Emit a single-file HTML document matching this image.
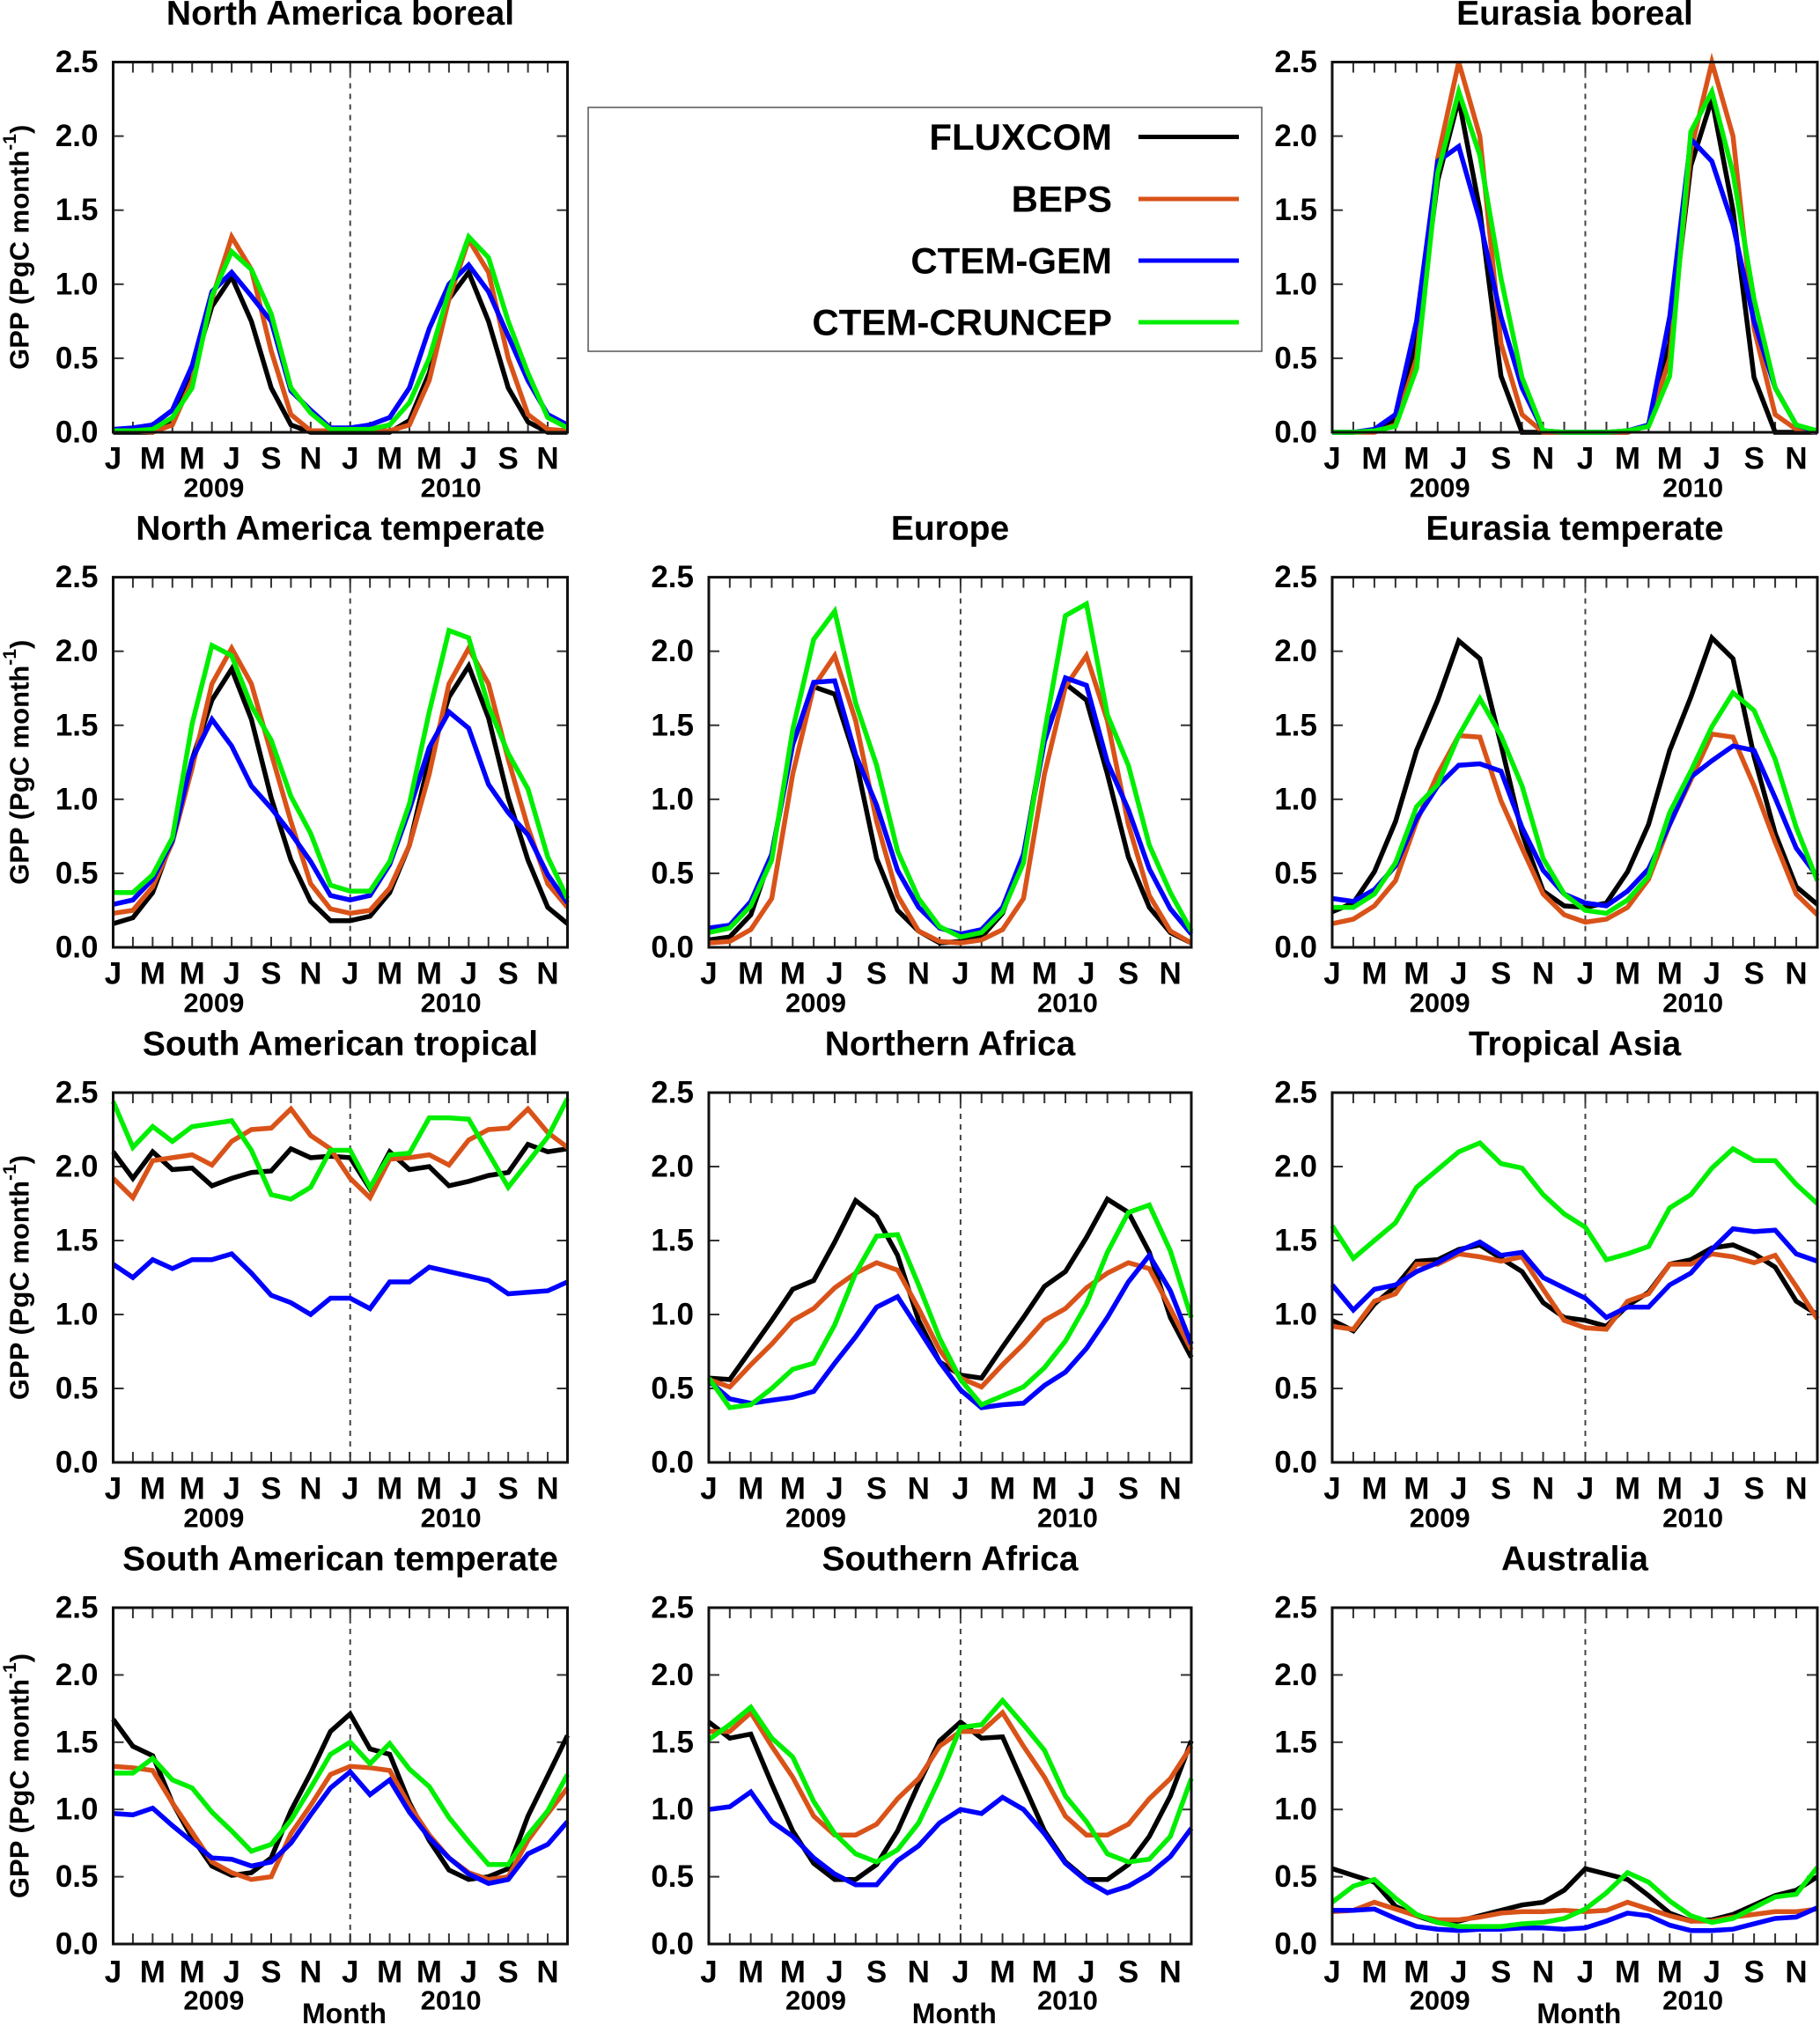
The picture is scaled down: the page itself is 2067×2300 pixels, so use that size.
<!DOCTYPE html>
<html><head><meta charset="utf-8"><style>
html,body{margin:0;padding:0;background:#fff;}
svg{display:block;font-family:"Liberation Sans",Arial,sans-serif;font-weight:bold;}
</style></head>
<body>
<svg id="fig" width="2067" height="2300" viewBox="0 0 2067 2300" xmlns="http://www.w3.org/2000/svg"></svg>
<script>
const seriesNames = ["FLUXCOM","BEPS","CTEM-GEM","CTEM-CRUNCEP"];
const seriesColors = ["#000000","#d95319","#0000ff","#00ee00"];
const monthLabels = ["J","M","M","J","S","N","J","M","M","J","S","N"];
const yearLabels = ["2009","2010"];
const yTicks = [0.0,0.5,1.0,1.5,2.0,2.5];
const regionNames = ["North America boreal","","Eurasia boreal","North America temperate","Europe","Eurasia temperate","South American tropical","Northern Africa","Tropical Asia","South American temperate","Southern Africa","Australia"];

const naBorealFlux=[0,0,0,0.08,0.4,0.85,1.05,0.75,0.3,0.05,0,0,0,0,0,0.08,0.4,0.9,1.08,0.75,0.3,0.07,0,0];
const naBorealBeps=[0.01,0.01,0,0.05,0.35,0.9,1.32,1.1,0.55,0.12,0.01,0.01,0.01,0.01,0.01,0.05,0.35,0.9,1.3,1.08,0.5,0.12,0.02,0.01];
const naBorealGem=[0.02,0.03,0.05,0.15,0.45,0.95,1.08,0.92,0.75,0.28,0.15,0.03,0.03,0.05,0.1,0.3,0.7,1.0,1.13,0.95,0.65,0.35,0.12,0.05];
const naBorealCru=[0.01,0.01,0.02,0.1,0.3,0.92,1.22,1.1,0.8,0.3,0.13,0.02,0.02,0.02,0.05,0.2,0.5,0.95,1.32,1.18,0.75,0.4,0.1,0.03];

const euBorealFlux=[0,0,0.01,0.08,0.6,1.7,2.25,1.5,0.38,0,0,0,0,0,0,0.05,0.6,1.8,2.25,1.5,0.37,0,0,0];
const euBorealBeps=[0,0,0,0.05,0.5,1.85,2.55,2.0,0.6,0.12,0,0,0,0,0,0.05,0.5,1.9,2.55,2.0,0.7,0.12,0.02,0];
const euBorealGem=[0,0,0.02,0.12,0.75,1.83,1.93,1.43,0.78,0.3,0.01,0,0,0,0.01,0.05,0.78,1.98,1.83,1.4,0.75,0.3,0.05,0];
const euBorealCru=[0,0,0.01,0.04,0.43,1.75,2.3,1.87,1.04,0.37,0.01,0,0,0,0.01,0.04,0.38,2.03,2.3,1.75,0.9,0.3,0.05,0.01];

const naTempFlux=[0.16,0.2,0.37,0.73,1.27,1.67,1.88,1.54,1.01,0.59,0.31,0.18,0.18,0.21,0.37,0.69,1.27,1.69,1.9,1.55,1.01,0.59,0.27,0.16];
const naTempBeps=[0.23,0.25,0.41,0.71,1.21,1.78,2.02,1.78,1.31,0.85,0.43,0.26,0.23,0.25,0.4,0.69,1.17,1.78,2.02,1.78,1.27,0.81,0.43,0.27];
const naTempGem=[0.29,0.32,0.46,0.72,1.27,1.54,1.36,1.09,0.94,0.77,0.58,0.35,0.32,0.35,0.56,0.93,1.35,1.59,1.48,1.1,0.91,0.76,0.49,0.3];
const naTempCru=[0.37,0.37,0.49,0.74,1.51,2.04,1.97,1.63,1.4,1.02,0.77,0.42,0.38,0.38,0.58,0.97,1.59,2.14,2.09,1.63,1.31,1.07,0.61,0.33];

const europeFlux=[0.05,0.07,0.22,0.63,1.37,1.76,1.71,1.27,0.6,0.25,0.11,0.03,0.04,0.07,0.23,0.62,1.43,1.78,1.67,1.17,0.61,0.27,0.1,0.03];
const europeBeps=[0.03,0.04,0.12,0.33,1.17,1.76,1.97,1.53,0.85,0.35,0.11,0.04,0.03,0.05,0.12,0.33,1.17,1.76,1.97,1.53,0.83,0.35,0.11,0.03];
const europeGem=[0.13,0.15,0.31,0.63,1.37,1.79,1.8,1.3,0.96,0.52,0.27,0.13,0.09,0.12,0.27,0.63,1.39,1.82,1.77,1.25,0.93,0.53,0.26,0.09];
const europeCru=[0.1,0.13,0.28,0.59,1.47,2.08,2.27,1.65,1.23,0.65,0.33,0.14,0.07,0.1,0.24,0.57,1.45,2.24,2.32,1.57,1.23,0.69,0.37,0.11];

const euTempFlux=[0.24,0.3,0.51,0.85,1.33,1.67,2.07,1.95,1.37,0.77,0.38,0.28,0.27,0.3,0.51,0.83,1.33,1.69,2.09,1.95,1.29,0.77,0.41,0.29];
const euTempBeps=[0.16,0.19,0.28,0.45,0.85,1.17,1.43,1.42,0.99,0.67,0.36,0.22,0.17,0.19,0.27,0.46,0.83,1.13,1.44,1.42,1.09,0.71,0.36,0.22];
const euTempGem=[0.33,0.31,0.39,0.55,0.87,1.09,1.23,1.24,1.19,0.81,0.52,0.36,0.3,0.28,0.38,0.53,0.83,1.15,1.26,1.36,1.33,1.01,0.67,0.48];
const euTempCru=[0.27,0.27,0.36,0.57,0.95,1.1,1.43,1.68,1.43,1.09,0.6,0.36,0.25,0.23,0.32,0.48,0.91,1.19,1.49,1.72,1.6,1.27,0.81,0.45];

const saTropFlux=[2.1,1.92,2.1,1.98,1.99,1.87,1.92,1.96,1.97,2.12,2.06,2.07,2.06,1.85,2.1,1.98,2.0,1.87,1.9,1.94,1.96,2.15,2.1,2.12];
const saTropBeps=[1.92,1.79,2.04,2.06,2.08,2.01,2.17,2.25,2.26,2.39,2.21,2.12,1.92,1.79,2.05,2.06,2.08,2.01,2.18,2.25,2.26,2.39,2.23,2.13];
const saTropGem=[1.34,1.25,1.37,1.31,1.37,1.37,1.41,1.28,1.13,1.08,1.0,1.11,1.11,1.04,1.22,1.22,1.32,1.29,1.26,1.23,1.14,1.15,1.16,1.22];
const saTropCru=[2.44,2.13,2.27,2.17,2.27,2.29,2.31,2.11,1.81,1.78,1.86,2.11,2.11,1.86,2.08,2.09,2.33,2.33,2.32,2.09,1.86,2.03,2.2,2.46];

const nAfrFlux=[0.57,0.56,0.76,0.96,1.17,1.23,1.49,1.77,1.66,1.4,0.96,0.68,0.59,0.57,0.78,0.98,1.19,1.29,1.52,1.78,1.69,1.42,0.98,0.71];
const nAfrBeps=[0.56,0.51,0.66,0.8,0.96,1.04,1.18,1.28,1.35,1.3,1.04,0.76,0.57,0.51,0.66,0.8,0.96,1.04,1.18,1.28,1.35,1.31,1.04,0.76];
const nAfrGem=[0.55,0.43,0.4,0.42,0.44,0.48,0.67,0.85,1.05,1.12,0.9,0.68,0.49,0.37,0.39,0.4,0.52,0.61,0.77,0.98,1.22,1.4,1.16,0.8];
const nAfrCru=[0.57,0.37,0.39,0.5,0.63,0.67,0.93,1.28,1.53,1.54,1.2,0.84,0.56,0.39,0.45,0.51,0.64,0.82,1.07,1.42,1.69,1.74,1.43,0.98];

const trAsiaFlux=[0.96,0.89,1.07,1.19,1.36,1.37,1.44,1.47,1.38,1.29,1.08,0.98,0.96,0.92,1.06,1.15,1.34,1.37,1.45,1.47,1.41,1.32,1.09,1.0];
const trAsiaBeps=[0.92,0.9,1.09,1.14,1.34,1.34,1.41,1.39,1.36,1.39,1.17,0.96,0.91,0.9,1.09,1.14,1.34,1.34,1.41,1.39,1.35,1.4,1.19,0.97];
const trAsiaGem=[1.2,1.03,1.17,1.2,1.29,1.35,1.43,1.49,1.4,1.42,1.25,1.18,1.11,0.98,1.05,1.05,1.2,1.28,1.44,1.58,1.56,1.57,1.41,1.36];
const trAsiaCru=[1.6,1.38,1.5,1.62,1.86,1.98,2.1,2.16,2.02,1.99,1.81,1.68,1.59,1.37,1.41,1.46,1.72,1.81,1.99,2.12,2.04,2.04,1.88,1.75];

const saTempFlux=[1.67,1.47,1.4,1.05,0.79,0.58,0.51,0.53,0.64,0.99,1.27,1.58,1.71,1.45,1.41,1.05,0.77,0.55,0.48,0.5,0.56,0.95,1.25,1.55];
const saTempBeps=[1.32,1.31,1.29,1.05,0.83,0.61,0.53,0.48,0.5,0.82,1.03,1.26,1.32,1.31,1.29,1.03,0.81,0.64,0.53,0.48,0.5,0.77,0.97,1.16];
const saTempGem=[0.97,0.96,1.01,0.88,0.76,0.64,0.63,0.58,0.61,0.75,0.96,1.16,1.28,1.11,1.22,0.98,0.79,0.64,0.52,0.45,0.48,0.67,0.74,0.91];
const saTempCru=[1.27,1.27,1.38,1.22,1.16,0.98,0.84,0.69,0.74,0.92,1.16,1.41,1.5,1.34,1.49,1.3,1.17,0.94,0.76,0.59,0.59,0.81,0.99,1.26];

const sAfrFlux=[1.65,1.53,1.56,1.19,0.84,0.6,0.48,0.48,0.59,0.84,1.19,1.51,1.65,1.53,1.54,1.19,0.84,0.61,0.48,0.48,0.59,0.8,1.1,1.51];
const sAfrBeps=[1.58,1.58,1.72,1.47,1.24,0.95,0.81,0.81,0.89,1.08,1.23,1.47,1.58,1.58,1.72,1.47,1.24,0.95,0.81,0.81,0.89,1.08,1.23,1.47];
const sAfrGem=[1.0,1.02,1.13,0.91,0.8,0.64,0.52,0.44,0.44,0.62,0.73,0.9,1.0,0.97,1.09,1.0,0.82,0.6,0.47,0.38,0.43,0.52,0.65,0.86];
const sAfrCru=[1.52,1.63,1.76,1.53,1.39,1.06,0.82,0.67,0.61,0.7,0.9,1.23,1.61,1.63,1.81,1.63,1.44,1.1,0.91,0.67,0.61,0.63,0.8,1.23];

const ausFlux=[0.56,0.51,0.46,0.28,0.21,0.16,0.17,0.21,0.25,0.29,0.31,0.4,0.56,0.52,0.48,0.36,0.23,0.17,0.18,0.22,0.29,0.36,0.4,0.5];
const ausBeps=[0.24,0.25,0.31,0.26,0.21,0.18,0.18,0.2,0.23,0.24,0.24,0.25,0.24,0.25,0.31,0.26,0.21,0.17,0.17,0.2,0.22,0.24,0.24,0.26];
const ausGem=[0.25,0.25,0.26,0.19,0.13,0.11,0.1,0.11,0.11,0.12,0.12,0.11,0.12,0.17,0.23,0.21,0.14,0.1,0.1,0.11,0.15,0.19,0.2,0.27];
const ausCru=[0.31,0.43,0.48,0.34,0.22,0.16,0.13,0.13,0.13,0.15,0.16,0.19,0.26,0.38,0.53,0.46,0.32,0.21,0.16,0.19,0.27,0.35,0.37,0.57];

const panelData = [
 [naBorealFlux,naBorealBeps,naBorealGem,naBorealCru], null,
 [euBorealFlux,euBorealBeps,euBorealGem,euBorealCru],
 [naTempFlux,naTempBeps,naTempGem,naTempCru],
 [europeFlux,europeBeps,europeGem,europeCru],
 [euTempFlux,euTempBeps,euTempGem,euTempCru],
 [saTropFlux,saTropBeps,saTropGem,saTropCru],
 [nAfrFlux,nAfrBeps,nAfrGem,nAfrCru],
 [trAsiaFlux,trAsiaBeps,trAsiaGem,trAsiaCru],
 [saTempFlux,saTempBeps,saTempGem,saTempCru],
 [sAfrFlux,sAfrBeps,sAfrGem,sAfrCru],
 [ausFlux,ausBeps,ausGem,ausCru]
];

const NS="http://www.w3.org/2000/svg";
const svg=document.getElementById('fig');
function mk(tag,attrs,parent){const e=document.createElementNS(NS,tag);for(const k in attrs)e.setAttribute(k,attrs[k]);(parent||svg).appendChild(e);return e;}
function txt(s,x,y,size,anchor,parent){const t=mk('text',{x:x,y:y,'font-size':size,'text-anchor':anchor||'middle','dominant-baseline':'central',fill:'#000'},parent);t.textContent=s;return t;}

const colL=[128.5,805,1513], colR=[644.5,1353,2064];
const rowT=[70.5,655.6,1241,1826], rowB=[491,1076,1661,2208];

panelData.forEach((data,p)=>{
  if(!data) return;
  const r=Math.floor(p/3), c=p%3;
  const L=colL[c],R=colR[c],T=rowT[r],B=rowB[r];
  const g=mk('g',{});
  
  
  const xS=i=>L+i*(R-L)/23;
  const yS=v=>B-v*(B-T)/2.5;
  const tt=txt(regionNames[p],(L+R)/2,T-55,39,'middle',g);
  
  
  const dv=mk('line',{x1:xS(12),x2:xS(12),y1:T,y2:B,stroke:'#444','stroke-width':2,'stroke-dasharray':'6,6'},g);
  
  
  for(let i=1;i<23;i++){
    mk('line',{x1:xS(i),x2:xS(i),y1:T,y2:T+12,stroke:'#333','stroke-width':2},g);
    mk('line',{x1:xS(i),x2:xS(i),y1:B,y2:B-12,stroke:'#333','stroke-width':2},g);
  }
  yTicks.forEach(v=>{
    mk('line',{x1:L,x2:L+12,y1:yS(v),y2:yS(v),stroke:'#333','stroke-width':2},g);
    mk('line',{x1:R,x2:R-12,y1:yS(v),y2:yS(v),stroke:'#333','stroke-width':2},g);
    const yl=txt(v.toFixed(1),L-17,yS(v),35,'end',g);
    
    
  });
  const mOff = r===3?32:30;
  monthLabels.forEach((m,k)=>{
    const ml=txt(m,xS(k*2),B+mOff,35,'middle',g);
    
    
  });
  yearLabels.forEach((y,k)=>{
    const yl=txt(y,xS(5.1+k*12),B+(r===3?64:63),31,'middle',g);
    
    
  });
  if(c===0){
    const at=mk('text',{x:0,y:0,'font-size':31,'text-anchor':'middle','dominant-baseline':'central',transform:`translate(22,${(T+B)/2}) rotate(-90)`},g);
    
    
    at.innerHTML='GPP (PgC month<tspan dy="-11" font-size="21">-1</tspan><tspan dy="11">)</tspan>';
  }
  if(r===3){
    const mt=txt('Month',xS(11.7),B+79,32,'middle',g);
    
    
  }
  data.forEach((arr,s)=>{
    const pts=arr.map((v,i)=>xS(i).toFixed(1)+','+yS(Math.min(v,2.5)).toFixed(1)).join(' ');
    const pl=mk('polyline',{points:pts,fill:'none',stroke:seriesColors[s],'stroke-width':5.5,'stroke-linejoin':'miter'},g);
    
    
  });
  const fr=mk('rect',{x:L,y:T,width:R-L,height:B-T,fill:'none',stroke:'#111','stroke-width':3},g);
  
  
});

const lg=mk('g',{});


mk('rect',{x:668,y:122,width:765,height:277,fill:'#fff',stroke:'#555','stroke-width':1.5},lg);
const legY=[155.5,226,296,366];
seriesNames.forEach((n,s)=>{
  const e=mk('g',{},lg);
  
  
  txt(n,1263,legY[s],42,'end',e);
  mk('line',{x1:1293,x2:1407,y1:legY[s],y2:legY[s],stroke:seriesColors[s],'stroke-width':5}, e);
});
</script>
</body></html>
